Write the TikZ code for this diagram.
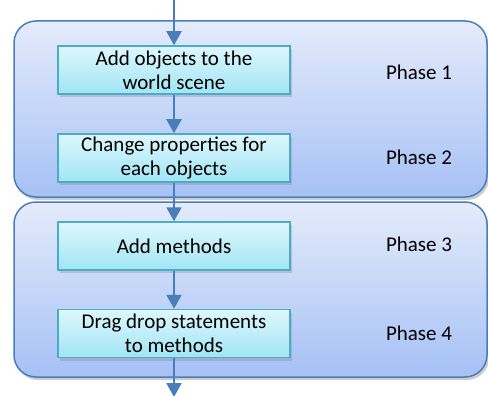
\documentclass[tikz,border=0pt]{standalone}
\usepackage{fontspec}
\setmainfont{Carlito}
\usetikzlibrary{arrows.meta,shadows}
\definecolor{outertop}{RGB}{228,235,251}
\definecolor{outerbot}{RGB}{166,193,245}
\definecolor{outerline}{RGB}{74,126,187}
\definecolor{innertop}{RGB}{222,247,252}
\definecolor{innerbot}{RGB}{160,229,245}
\definecolor{innerline}{RGB}{75,172,198}
\definecolor{arrowcol}{RGB}{74,126,187}
\tikzset{
  phasebox/.style={draw=outerline, line width=1.5pt, rounded corners=22pt,
    top color=outertop, bottom color=outerbot, minimum width=473pt,
    drop shadow={shadow xshift=2pt, shadow yshift=-3pt, opacity=0.4}},
  stepbox/.style={draw=innerline, line width=1.5pt, top color=innertop, bottom color=innerbot,
    minimum width=232pt, minimum height=48pt, inner sep=0pt, align=center,
    font=\fontsize{21}{24}\selectfont,
    drop shadow={shadow xshift=2pt, shadow yshift=-3pt, opacity=0.3}},
  phaselabel/.style={font=\fontsize{21}{24}\selectfont, inner sep=0pt},
  flow/.style={draw=arrowcol, line width=2pt, -{Triangle[width=15pt,length=14pt]}}
}
\begin{document}
\begin{tikzpicture}[x=1pt,y=-1pt]
\useasboundingbox (0,0) rectangle (488,396);
\node[phasebox, minimum height=176pt] (g1) at (250.5,109) {};
\node[phasebox, minimum height=175pt] (g2) at (250.5,289.5) {};
\node[stepbox] (s1) at (174,70) {Add objects to the\\world scene};
\node[stepbox] (s2) at (174,158) {Change properties for\\each objects};
\node[stepbox] (s3) at (174,246) {Add methods};
\node[stepbox] (s4) at (174,333.5) {Drag drop statements\\to methods};
\node[phaselabel] (p1) at (419,72) {Phase 1};
\node[phaselabel] (p2) at (419,157) {Phase 2};
\node[phaselabel] (p3) at (419,244) {Phase 3};
\node[phaselabel] (p4) at (419,333) {Phase 4};
\coordinate (top) at (174,0);
\coordinate (bot) at (174,397);
\draw[flow] (top) -- (s1.north);
\draw[flow] (s1.south) -- (s2.north);
\draw[flow] (s2.south) -- (s3.north);
\draw[flow] (s3.south) -- (s4.north);
\draw[flow] (s4.south) -- (bot);
\end{tikzpicture}
\end{document}
